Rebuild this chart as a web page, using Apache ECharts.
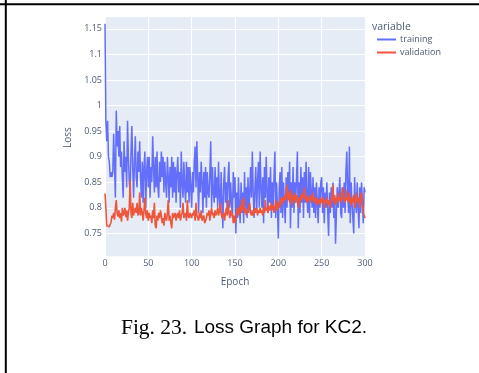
<!DOCTYPE html>
<html>
<head>
<meta charset="utf-8">
<style>html,body{margin:0;padding:0;background:#fff;}#c{width:479px;height:373px;}</style>
<script src="https://cdn.jsdelivr.net/npm/echarts@6/dist/echarts.min.js"></script>
</head>
<body>
<div id="c"></div>
<script>
const xTicks = [0, 50, 100, 150, 200, 250, 300];
const yTicks = [0.75, 0.8, 0.85, 0.9, 0.95, 1, 1.05, 1.1, 1.15];
const seriesNames = ['training', 'validation'];
const training = [
  1.16, 0.97, 0.93, 0.97, 0.90, 0.89, 0.86, 0.87, 0.86, 0.87,
  0.945, 0.88, 0.82, 0.99, 0.92, 0.95, 0.90, 0.96, 0.88, 0.91,
  0.86, 0.82, 0.93, 0.87, 0.90, 0.84, 0.97, 0.90, 0.85, 0.83,
  0.91, 0.96, 0.88, 0.82, 0.89, 0.94, 0.86, 0.84, 0.91, 0.87,
  0.93, 0.86, 0.82, 0.89, 0.81, 0.88, 0.91, 0.80, 0.87, 0.90,
  0.84, 0.90, 0.82, 0.88, 0.85, 0.94, 0.88, 0.83, 0.90, 0.84,
  0.91, 0.84, 0.82, 0.89, 0.85, 0.91, 0.86, 0.90, 0.83, 0.89,
  0.85, 0.82, 0.90, 0.86, 0.81, 0.88, 0.84, 0.90, 0.82, 0.89,
  0.83, 0.88, 0.81, 0.87, 0.90, 0.83, 0.87, 0.80, 0.91, 0.85,
  0.82, 0.89, 0.84, 0.81, 0.89, 0.83, 0.88, 0.81, 0.88, 0.84,
  0.80, 0.87, 0.83, 0.89, 0.92, 0.84, 0.93, 0.86, 0.79, 0.87,
  0.83, 0.89, 0.85, 0.79, 0.87, 0.82, 0.88, 0.80, 0.87, 0.83,
  0.82, 0.87, 0.93, 0.80, 0.88, 0.83, 0.81, 0.88, 0.82, 0.86,
  0.80, 0.89, 0.82, 0.79, 0.87, 0.81, 0.76, 0.85, 0.88, 0.81,
  0.85, 0.79, 0.86, 0.89, 0.80, 0.85, 0.81, 0.78, 0.87, 0.82,
  0.86, 0.75, 0.83, 0.78, 0.86, 0.80, 0.77, 0.85, 0.79, 0.83,
  0.77, 0.87, 0.80, 0.84, 0.78, 0.86, 0.79, 0.83, 0.88, 0.82,
  0.91, 0.83, 0.78, 0.84, 0.88, 0.79, 0.85, 0.89, 0.80, 0.91,
  0.84, 0.80, 0.86, 0.77, 0.88, 0.82, 0.90, 0.83, 0.79, 0.86,
  0.81, 0.88, 0.78, 0.85, 0.80, 0.86, 0.91, 0.78, 0.85, 0.80,
  0.74, 0.84, 0.87, 0.79, 0.88, 0.78, 0.85, 0.81, 0.77, 0.86,
  0.80, 0.87, 0.82, 0.89, 0.76, 0.85, 0.80, 0.88, 0.79, 0.85,
  0.81, 0.86, 0.91, 0.76, 0.85, 0.79, 0.88, 0.81, 0.86, 0.78,
  0.87, 0.81, 0.89, 0.82, 0.79, 0.88, 0.78, 0.87, 0.83, 0.80,
  0.86, 0.79, 0.84, 0.78, 0.85, 0.81, 0.77, 0.84, 0.80, 0.85,
  0.86, 0.79, 0.84, 0.77, 0.83, 0.80, 0.85, 0.79, 0.745, 0.83,
  0.79, 0.84, 0.80, 0.85, 0.78, 0.82, 0.73, 0.79, 0.84, 0.80,
  0.83, 0.86, 0.79, 0.78, 0.84, 0.80, 0.85, 0.79, 0.87, 0.91,
  0.83, 0.79, 0.92, 0.77, 0.85, 0.81, 0.78, 0.75, 0.86, 0.81,
  0.79, 0.85, 0.80, 0.76, 0.84, 0.79, 0.85, 0.81, 0.77, 0.84,
  0.83
];
const validation = [
  0.828, 0.80, 0.765, 0.765, 0.768, 0.763, 0.765, 0.772, 0.785, 0.78,
  0.79, 0.777, 0.80, 0.815, 0.79, 0.783, 0.795, 0.78, 0.79, 0.773,
  0.80, 0.785, 0.79, 0.80, 0.782, 0.795, 0.775, 0.79, 0.80, 0.855,
  0.79, 0.78, 0.81, 0.785, 0.795, 0.80, 0.79, 0.81, 0.785, 0.79,
  0.83, 0.785, 0.80, 0.79, 0.775, 0.795, 0.82, 0.79, 0.78, 0.795,
  0.775, 0.79, 0.78, 0.785, 0.77, 0.795, 0.78, 0.81, 0.765, 0.76,
  0.785, 0.775, 0.79, 0.78, 0.795, 0.785, 0.77, 0.78, 0.765, 0.79,
  0.78, 0.775, 0.79, 0.815, 0.775, 0.785, 0.77, 0.76, 0.79, 0.78,
  0.785, 0.79, 0.775, 0.785, 0.79, 0.78, 0.795, 0.775, 0.785, 0.79,
  0.81, 0.78, 0.785, 0.79, 0.775, 0.815, 0.785, 0.78, 0.79, 0.785,
  0.78, 0.79, 0.785, 0.795, 0.775, 0.81, 0.785, 0.78, 0.775, 0.79,
  0.78, 0.795, 0.775, 0.78, 0.785, 0.77, 0.775, 0.78, 0.79, 0.785,
  0.795, 0.775, 0.79, 0.80, 0.785, 0.79, 0.78, 0.795, 0.785, 0.79,
  0.80, 0.785, 0.795, 0.81, 0.79, 0.78, 0.785, 0.79, 0.775, 0.79,
  0.80, 0.785, 0.815, 0.79, 0.78, 0.795, 0.785, 0.79, 0.77, 0.785,
  0.77, 0.78, 0.79, 0.80, 0.785, 0.795, 0.805, 0.79, 0.815, 0.795,
  0.82, 0.79, 0.80, 0.785, 0.795, 0.79, 0.80, 0.81, 0.79, 0.785,
  0.795, 0.785, 0.79, 0.80, 0.79, 0.80, 0.785, 0.795, 0.79, 0.80,
  0.79, 0.795, 0.785, 0.80, 0.79, 0.815, 0.795, 0.80, 0.79, 0.805,
  0.795, 0.80, 0.81, 0.795, 0.805, 0.79, 0.80, 0.815, 0.80, 0.795,
  0.81, 0.80, 0.815, 0.82, 0.805, 0.82, 0.81, 0.825, 0.815, 0.83,
  0.845, 0.815, 0.83, 0.81, 0.835, 0.82, 0.805, 0.825, 0.815, 0.83,
  0.81, 0.825, 0.815, 0.80, 0.82, 0.81, 0.825, 0.815, 0.83, 0.82,
  0.84, 0.815, 0.82, 0.81, 0.825, 0.815, 0.82, 0.81, 0.825, 0.815,
  0.83, 0.81, 0.82, 0.815, 0.805, 0.82, 0.81, 0.815, 0.805, 0.82,
  0.81, 0.815, 0.82, 0.80, 0.815, 0.81, 0.82, 0.805, 0.815, 0.81,
  0.80, 0.82, 0.815, 0.845, 0.81, 0.825, 0.805, 0.82, 0.81, 0.83,
  0.815, 0.82, 0.81, 0.825, 0.84, 0.815, 0.82, 0.81, 0.835, 0.815,
  0.82, 0.81, 0.83, 0.815, 0.805, 0.82, 0.81, 0.825, 0.80, 0.815,
  0.83, 0.81, 0.82, 0.815, 0.80, 0.825, 0.83, 0.81, 0.79, 0.785,
  0.78
];

const toPairs = arr => arr.map((v, i) => [i, v]);
const labelColor = '#4b5b72';
const fontFam = '"Open Sans", "Noto Sans", sans-serif';

const chart = echarts.init(document.getElementById('c'), null, {renderer: 'canvas'});
chart.setOption({
  animation: false,
  backgroundColor: '#ffffff',
  grid: {left: 105, right: 114, top: 16, bottom: 114, show: true, backgroundColor: '#E5ECF6', borderWidth: 0, containLabel: false},
  xAxis: {
    type: 'value', min: 0, max: 300, interval: 50,
    name: 'Epoch', nameLocation: 'middle', nameGap: 18,
    nameTextStyle: {fontFamily: fontFam, fontSize: 10, color: labelColor},
    axisLine: {show: false}, axisTick: {show: false},
    axisLabel: {fontFamily: fontFam, fontSize: 9, color: labelColor, margin: 0,
      formatter: v => xTicks.includes(v) ? String(v) : ''},
    splitLine: {show: true, lineStyle: {color: '#ffffff', width: 1}}
  },
  yAxis: {
    type: 'value', min: 0.7, max: 1.175, interval: 0.05,
    name: 'Loss', nameLocation: 'middle', nameGap: 30,
    nameTextStyle: {fontFamily: fontFam, fontSize: 10, color: labelColor},
    axisLine: {show: false}, axisTick: {show: false},
    axisLabel: {fontFamily: fontFam, fontSize: 9, color: labelColor, margin: 3,
      formatter: v => {
        const r = Math.round(v * 100) / 100;
        return yTicks.some(t => Math.abs(t - r) < 1e-9) ? String(r) : '';
      }},
    splitLine: {show: true, lineStyle: {color: '#ffffff', width: 1}}
  },
  legend: {
    orient: 'vertical', left: 372, top: 30, itemWidth: 19, itemHeight: 2, itemGap: 4,
    icon: 'rect',
    textStyle: {fontFamily: fontFam, fontSize: 9, color: labelColor, padding: [0, 0, 0, -1]},
    data: seriesNames
  },
  series: [
    {name: seriesNames[0], type: 'line', data: toPairs(training), showSymbol: false, symbol: 'none',
      lineStyle: {color: '#636EFA', width: 1.5}, itemStyle: {color: '#636EFA'}, z: 2},
    {name: seriesNames[1], type: 'line', data: toPairs(validation), showSymbol: false, symbol: 'none',
      lineStyle: {color: '#EF553B', width: 1.6}, itemStyle: {color: '#EF553B'}, z: 3}
  ],
  graphic: [
    {type: 'rect', shape: {x: 100, y: 256.3, width: 270, height: 3}, style: {fill: '#ffffff'}, z: 50},
    {type: 'text', left: 372, top: 22, style: {text: 'variable', fontFamily: fontFam, fontSize: 10.5, fill: labelColor}, z: 60},
    {type: 'rect', shape: {x: 0, y: 3.3, width: 479, height: 2}, style: {fill: '#000000'}, z: 60},
    {type: 'rect', shape: {x: 4.8, y: 0, width: 2, height: 373}, style: {fill: '#000000'}, z: 60},
    {type: 'text', x: 244, y: 328, z: 60,
      style: {
        text: '{a|Fig. 23.}  {b|Loss Graph for KC2.}',
        textAlign: 'center', textVerticalAlign: 'middle',
        rich: {
          a: {fontFamily: '"Liberation Serif", "DejaVu Serif", serif', fontSize: 21.5, fill: '#000'},
          b: {fontFamily: '"Liberation Sans", Arial, sans-serif', fontSize: 19, fill: '#000'}
        }
      }}
  ]
});
</script>
</body>
</html>
